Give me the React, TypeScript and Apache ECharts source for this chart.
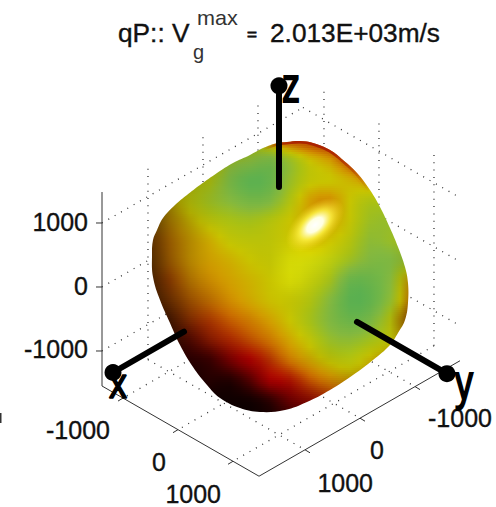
import React, { useEffect, useRef } from "react";
import * as echarts from "echarts";

const FONT = '"Liberation Sans", Arial, sans-serif';

const tickValues = [-1000, 0, 1000];
const xRange = [-1382, 1473];
const yRange = [-1818, 1836];
const zRange = [-1547, 1484];

// 3-D axis rods: [from, to], as [X, Y, Z]
const rodZ = [[0, 0, 1340], [0, 0, 2920]];
const rodX = [[0, 1727, -70], [0, 3018, -70]];
const rodY = [[1418, 0, -70], [3054, 0, -70]];

// surface: nodes every 20 units of the view plane
const surfaceColumns = [150, 170, 190, 210, 230, 250, 270, 290, 310, 330, 350, 370, 390, 410];
const surfaceRows = [140, 160, 180, 200, 220, 240, 260, 280, 300, 320, 340, 360, 380, 400, 420];
const velocity = [
  [60, 60, 60, 60, 50, 40, 55, 80, 90, 100, 100, 100, 100, 100],
  [60, 60, 60, 50, 30, 22, 15, 30, 50, 62, 85, 100, 100, 100],
  [60, 58, 45, 38, 15, 2, 6, 28, 45, 48, 55, 65, 70, 70],
  [60, 55, 42, 30, 20, 12, 16, 38, 60, 65, 48, 38, 42, 50],
  [65, 62, 52, 42, 35, 32, 38, 48, 58, 60, 46, 30, 28, 30],
  [75, 70, 60, 55, 45, 42, 43, 48, 55, 50, 40, 24, 28, 35],
  [75, 72, 62, 60, 55, 48, 45, 45, 44, 40, 30, 18, 18, 30],
  [78, 80, 68, 65, 60, 54, 48, 45, 42, 33, 8, 8, 20, 60],
  [80, 80, 76, 72, 66, 58, 50, 46, 38, 20, 1, 4, 24, 70],
  [85, 85, 85, 85, 78, 70, 60, 48, 34, 18, 8, 14, 40, 75],
  [90, 90, 95, 92, 90, 82, 72, 58, 44, 28, 24, 32, 45, 60],
  [100, 100, 100, 100, 100, 100, 88, 72, 58, 45, 40, 52, 60, 60],
  [100, 100, 100, 100, 100, 100, 100, 95, 80, 68, 60, 60, 60, 60],
  [100, 100, 100, 100, 100, 100, 100, 100, 96, 90, 80, 70, 70, 70],
  [100, 100, 100, 100, 100, 100, 100, 100, 100, 100, 90, 80, 80, 80],
];
const shading = [
  [50, 50, 50, 60, 75, 85, 95, 95, 100, 100, 100, 100, 100, 100],
  [50, 50, 65, 80, 90, 95, 98, 100, 100, 100, 100, 100, 100, 100],
  [50, 62, 80, 90, 97, 100, 100, 100, 100, 100, 100, 100, 100, 100],
  [45, 70, 88, 95, 100, 100, 100, 100, 100, 100, 100, 100, 100, 100],
  [45, 70, 86, 96, 100, 100, 100, 100, 100, 100, 100, 100, 100, 100],
  [45, 72, 85, 98, 100, 100, 100, 102, 104, 102, 100, 100, 100, 95],
  [40, 70, 85, 98, 100, 100, 100, 110, 110, 105, 100, 100, 100, 90],
  [35, 66, 82, 96, 100, 100, 100, 110, 105, 100, 100, 100, 100, 85],
  [30, 52, 75, 90, 100, 100, 100, 100, 100, 100, 100, 100, 100, 85],
  [20, 35, 66, 90, 100, 100, 100, 100, 100, 100, 100, 100, 95, 60],
  [15, 25, 45, 74, 95, 100, 100, 100, 100, 100, 100, 100, 95, 70],
  [12, 18, 25, 35, 70, 100, 100, 100, 95, 95, 100, 95, 80, 70],
  [10, 12, 15, 22, 22, 52, 100, 100, 100, 95, 85, 80, 70, 70],
  [10, 10, 10, 10, 10, 12, 30, 65, 78, 85, 70, 60, 60, 60],
  [10, 10, 10, 10, 10, 10, 15, 30, 40, 50, 50, 50, 50, 50],
];
const silhouette = [
  [152, 255], [153, 240], [157, 230], [163, 218], [175, 205], [187, 195], [200, 185], [217, 173],
  [233, 163], [250, 155], [263, 148], [278, 143], [287, 142], [300, 141], [313, 143], [330, 150],
  [343, 160], [357, 173], [370, 190], [380, 207], [390, 228], [398, 247], [405, 267], [408, 283],
  [408, 303], [405, 320], [398, 333], [390, 345], [373, 360], [353, 375], [330, 390], [307, 402],
  [285, 410], [260, 412], [240, 408], [220, 398], [207, 385], [193, 367], [180, 345], [170, 323],
  [160, 300], [153, 277],
];
const rim = [[263, 148], [278, 143], [287, 142], [300, 141], [313, 143], [330, 150], [343, 160], [357, 173], [370, 190]];
// specular spot: centre x, centre y
const specular = [[315, 225]];

const colorStops: [number, number[]][] = [
  [0, [0x5a, 0xb0, 0x50]],
  [20, [0x84, 0xb8, 0x3e]],
  [35, [0xa8, 0xc0, 0x14]],
  [48, [0xc8, 0xc4, 0x00]],
  [62, [0xd2, 0x9a, 0x00]],
  [75, [0xc8, 0x6a, 0x00]],
  [88, [0xb0, 0x30, 0x00]],
  [100, [0xa0, 0x00, 0x00]],
];

function colorAt(v: number, s: number) {
  const t = Math.max(0, Math.min(100, v));
  let i = 0;
  while (i < colorStops.length - 2 && t > colorStops[i + 1][0]) i++;
  const [a, ca] = colorStops[i];
  const [b, cb] = colorStops[i + 1];
  const f = (t - a) / (b - a);
  const k = Math.max(0, s) / 100;
  const c = ca.map((p, j) => Math.max(0, Math.min(255, Math.round((p + (cb[j] - p) * f) * k))));
  return `rgb(${c[0]},${c[1]},${c[2]})`;
}

const cr = (p0: number, p1: number, p2: number, p3: number, t: number) =>
  p1 + 0.5 * t * (p2 - p0 + t * (2 * p0 - 5 * p1 + 4 * p2 - p3 + t * (3 * (p1 - p2) + p3 - p0)));

function shadeBetween(m: number[][], x: number, y: number) {
  const cf = Math.max(0, Math.min(surfaceColumns.length - 1.001, (x - surfaceColumns[0]) / 20));
  const rf = Math.max(0, Math.min(surfaceRows.length - 1.001, (y - surfaceRows[0]) / 20));
  const c = Math.floor(cf), r = Math.floor(rf);
  const at = (i: number, j: number) =>
    m[Math.max(0, Math.min(m.length - 1, i))][Math.max(0, Math.min(m[0].length - 1, j))];
  const rowVal = (i: number) => cr(at(i, c - 1), at(i, c), at(i, c + 1), at(i, c + 2), cf - c);
  return cr(rowVal(r - 1), rowVal(r), rowVal(r + 1), rowVal(r + 2), rf - r);
}

function project(X: number, Y: number, Z: number) {
  const a = X - xRange[0];
  const b = yRange[1] - Y;
  return [102 + 0.055 * a + 0.055 * b, 386 + 0.0316 * a - 0.0316 * b - 0.064 * (Z - zRange[0])];
}

// dotted grid segments from the tick values
const gridSegments: number[][] = [];
tickValues.forEach((t) => {
  gridSegments.push([t, yRange[0], zRange[0], t, yRange[1], zRange[0]]);
  gridSegments.push([xRange[0], t, zRange[0], xRange[1], t, zRange[0]]);
  gridSegments.push([xRange[0], t, zRange[0], xRange[0], t, zRange[1]]);
  gridSegments.push([t, yRange[0], zRange[0], t, yRange[0], zRange[1]]);
  gridSegments.push([xRange[0], yRange[1], t, xRange[0], yRange[0], t]);
  gridSegments.push([xRange[0], yRange[0], t, xRange[1], yRange[0], t]);
});

const boxSegments = [
  [xRange[0], yRange[1], zRange[0], xRange[0], yRange[1], zRange[1]],
  [xRange[0], yRange[1], zRange[0], xRange[1], yRange[1], zRange[0]],
  [xRange[1], yRange[1], zRange[0], xRange[1], yRange[0], zRange[0]],
];

const rods = [rodZ, rodX, rodY].map((r) => [...r[0], ...r[1]]);

const tickLabels = {
  z: [
    { text: "-1000", x: 88, y: 349 },
    { text: "0", x: 88, y: 286 },
    { text: "1000", x: 88, y: 222 },
  ],
  x: [
    { text: "-1000", x: 110, y: 430 },
    { text: "0", x: 166, y: 462 },
    { text: "1000", x: 221, y: 494 },
  ],
  y: [
    { text: "-1000", x: 492, y: 418 },
    { text: "0", x: 384, y: 450 },
    { text: "1000", x: 373, y: 483 },
  ],
};

const label = (text: string, x: number, y: number, size: number, extra: any = {}, el: any = {}) => ({
  type: "text",
  x,
  y,
  z: 50,
  silent: true,
  ...el,
  style: {
    text,
    x: 0,
    y: 0,
    font: `${size}px ${FONT}`,
    fill: "#111",
    stroke: "#111",
    lineWidth: 0.35,
    align: "right",
    verticalAlign: "middle",
    ...extra,
  },
});

export default function App() {
  const ref = useRef<HTMLDivElement>(null);
  useEffect(() => {
    const chart = echarts.init(ref.current!, undefined, { renderer: "svg" });
    const segmentSeries = (data: number[][], z: number, style: any, rod = false) => ({
      type: "custom",
      coordinateSystem: "cartesian2d",
      z,
      silent: true,
      data,
      encode: { x: 0, y: 1 },
      renderItem: (params: any, api: any) => {
        const d = data[params.dataIndex];
        const p = api.coord(project(d[0], d[1], d[2]));
        const q = api.coord(project(d[3], d[4], d[5]));
        const seg: any = {
          type: "line",
          shape: { x1: p[0], y1: p[1], x2: q[0], y2: q[1] },
          style,
        };
        if (!rod) return seg;
        return {
          type: "group",
          children: [seg, { type: "circle", shape: { cx: q[0], cy: q[1], r: 8.5 }, style: { fill: "#000" } }],
        };
      },
    });

    const clipShape = (api: any) => ({
      type: "polygon",
      shape: { points: silhouette.map((p) => api.coord(p)), smooth: 0.4 },
    });

    const rowData = surfaceRows.slice(0, -1).map((y, i) => [surfaceColumns[0], y, ...velocity[i]]);

    const surfaceSeries = {
      type: "custom",
      coordinateSystem: "cartesian2d",
      z: 2,
      silent: true,
      data: rowData,
      encode: { x: 0, y: 1 },
      renderItem: (params: any, api: any) => {
        const y0 = surfaceRows[params.dataIndex];
        const x0 = surfaceColumns[0];
        const x1 = surfaceColumns[surfaceColumns.length - 1];
        const children: any[] = [];
        for (let y = y0; y < y0 + 20; y += 2) {
          const stops: any[] = [];
          for (let x = x0; x <= x1; x += 10) {
            stops.push({
              offset: (x - x0) / (x1 - x0),
              color: colorAt(shadeBetween(velocity, x, y + 1), shadeBetween(shading, x, y + 1)),
            });
          }
          const a = api.coord([x0, y]);
          const b = api.coord([x1, y + 2]);
          children.push({
            type: "rect",
            shape: { x: a[0], y: a[1], width: b[0] - a[0], height: b[1] - a[1] },
            style: { fill: new echarts.graphic.LinearGradient(0, 0, 1, 0, stops) },
          });
        }
        return { type: "group", clipPath: clipShape(api), children };
      },
    };

    const rimGradient = (rgb: string, peak: number) =>
      new echarts.graphic.LinearGradient(0, 0, 1, 0, [
        { offset: 0, color: `rgba(${rgb},0)` },
        { offset: 0.2, color: `rgba(${rgb},${peak})` },
        { offset: 0.65, color: `rgba(${rgb},${peak})` },
        { offset: 1, color: `rgba(${rgb},0)` },
      ]);

    const rimSeries = {
      type: "custom",
      coordinateSystem: "cartesian2d",
      z: 3,
      silent: true,
      data: [rim[0]],
      encode: { x: 0, y: 1 },
      renderItem: (_: any, api: any) => ({
        type: "group",
        clipPath: clipShape(api),
        children: [
          {
            type: "polyline",
            shape: { points: rim.map((p) => api.coord(p)), smooth: 0.4 },
            style: { stroke: rimGradient("200,110,0", 0.3), lineWidth: 10, fill: "none" },
          },
          {
            type: "polyline",
            shape: { points: rim.map((p) => api.coord(p)), smooth: 0.4 },
            style: { stroke: rimGradient("165,20,0", 0.75), lineWidth: 5, fill: "none" },
          },
        ],
      }),
    };

    const specularSeries = {
      type: "custom",
      coordinateSystem: "cartesian2d",
      z: 4,
      silent: true,
      data: specular,
      encode: { x: 0, y: 1 },
      renderItem: (params: any, api: any) => {
        const c = api.coord(specular[params.dataIndex]);
        return {
          type: "circle",
          x: c[0],
          y: c[1],
          scaleX: 1.75,
          scaleY: 0.95,
          rotation: 0.72,
          shape: { cx: 0, cy: 0, r: 20 },
          style: {
            fill: new echarts.graphic.RadialGradient(0.5, 0.5, 0.5, [
              { offset: 0, color: "rgba(255,255,255,1)" },
              { offset: 0.28, color: "rgba(255,255,225,1)" },
              { offset: 0.55, color: "rgba(255,245,70,0.8)" },
              { offset: 1, color: "rgba(240,220,30,0)" },
            ]),
          },
        };
      },
    };

    const letterStyle = { fill: "#000", stroke: "#000", lineWidth: 1.4, align: "center" };

    chart.setOption({
      animation: false,
      grid: { left: 0, right: 0, top: 0, bottom: 0 },
      xAxis: { type: "value", min: 0, max: 496, show: false },
      yAxis: { type: "value", min: 0, max: 507, inverse: true, show: false },
      series: [
        segmentSeries(gridSegments, 1, { stroke: "#333", lineWidth: 1.3, lineDash: [1, 6.3], lineCap: "butt" }),
        segmentSeries(boxSegments, 1, { stroke: "#333", lineWidth: 1 }),
        {
          type: "custom",
          coordinateSystem: "cartesian2d",
          z: 1,
          silent: true,
          data: tickValues.map((t) => [t]),
          encode: { x: 0, y: 0 },
          renderItem: (params: any, api: any) => {
            const t = tickValues[params.dataIndex];
            const style = { stroke: "#333", lineWidth: 1 };
            const a = project(xRange[0], yRange[1], t);
            const b = project(t, yRange[1], zRange[0]);
            const c = project(xRange[1], t, zRange[0]);
            const seg = (p: number[], dx: number, dy: number) => {
              const P = api.coord(p);
              return { type: "line", shape: { x1: P[0], y1: P[1], x2: P[0] + dx, y2: P[1] + dy }, style };
            };
            return { type: "group", children: [seg(a, -6, 0), seg(b, -5, 3), seg(c, 5, 3)] };
          },
        },
        surfaceSeries,
        rimSeries,
        specularSeries,
        segmentSeries(rods, 5, { stroke: "#000", lineWidth: 6, lineCap: "round" }, true),
      ],
      graphic: {
        elements: [
          label("qP:: V", 118, 33, 25, { align: "left" }, { scaleX: 1.05 }),
          label("max", 197, 18, 20, { align: "left", fill: "#333", stroke: "none" }, { scaleX: 1.08 }),
          label("g", 193, 52, 20, { align: "left", fill: "#333", stroke: "none" }),
          label("=", 247, 34, 17, { align: "left", lineWidth: 0.8 }),
          label("2.013E+03m/s", 270, 33, 25, { align: "left" }, { scaleX: 1.05 }),
          ...[...tickLabels.z, ...tickLabels.x, ...tickLabels.y].map((t) => label(t.text, t.x, t.y, 25)),
          label("z", 291, 85, 36, letterStyle, { scaleY: 1.35, z: 60 }),
          label("x", 118, 383, 36, letterStyle, { scaleY: 1.2, z: 60 }),
          label("y", 464, 382, 36, letterStyle, { scaleY: 1.4, z: 60 }),
          { type: "rect", z: 50, silent: true, shape: { x: 0, y: 413, width: 1.5, height: 10 }, style: { fill: "#333" } },
        ],
      },
    });
    return () => chart.dispose();
  }, []);
  return <div ref={ref} style={{ position: "absolute", left: 0, top: 0, width: 496, height: 507 }} />;
}
